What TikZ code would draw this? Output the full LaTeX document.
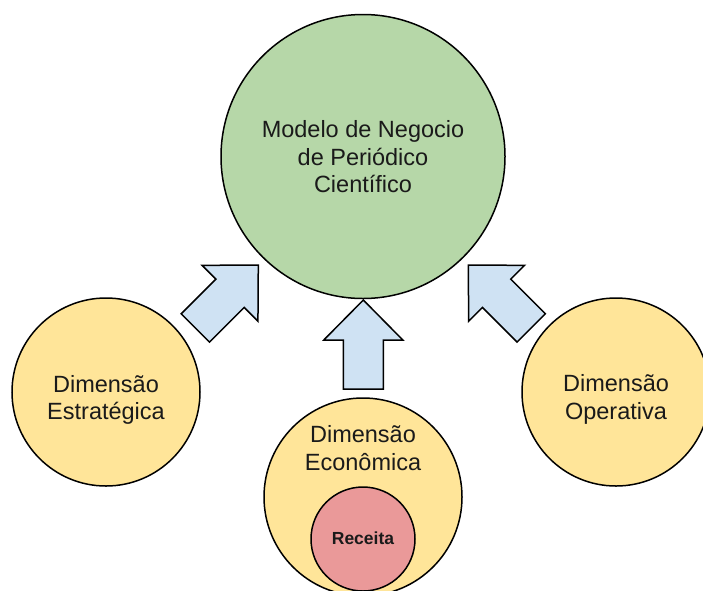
\documentclass[tikz,border=0pt]{standalone}
\usepackage{fontspec}
\setmainfont{Liberation Sans}
\definecolor{gfill}{HTML}{B6D7A8}
\definecolor{yfill}{HTML}{FFE599}
\definecolor{rfill}{HTML}{EA9999}
\definecolor{bfill}{HTML}{CFE2F3}
\definecolor{txt}{HTML}{1A1A1A}
\tikzset{
  circ/.style={circle, draw=black, line width=1.5pt, inner sep=0pt},
  lbl/.style={align=center, text=txt, inner sep=0pt, font=\fontsize{23.5}{27.5}\selectfont},
  blockarrow/.style={draw=black, fill=bfill, line width=1.5pt, line join=miter}
}
\begin{document}
\begin{tikzpicture}[x=1pt, y=-1pt]
\useasboundingbox (0,0) rectangle (703,590);
\clip (0,0) rectangle (703,590);
\fill[white] (0,0) rectangle (703,590);
% circles
\node[circ, fill=gfill, minimum size=284pt] (modelo) at (363,156.5) {};
\node[circ, fill=yfill, minimum size=188pt] (estr) at (106,392) {};
\node[circ, fill=yfill, minimum size=188pt] (oper) at (616,392) {};
\node[circ, fill=yfill, minimum size=198pt] (econ) at (363,497) {};
\node[circ, fill=rfill, minimum size=104pt] (rec) at (363,539) {};
% texts
\node[lbl] (tmodelo) at (363,157) {Modelo de Negocio\\de Periódico\\Científico};
\node[lbl] (testr) at (106,400) {Dimensão\\Estratégica};
\node[lbl] (toper) at (616,399.5) {Dimensão\\Operativa};
\node[lbl] (tecon) at (363,448) {Dimensão\\Econômica};
\node[anchor=base, text=txt, inner sep=0pt, font=\fontsize{17.5}{20}\selectfont\bfseries] (trec) at (363,544) {Receita};
% block arrows
\coordinate (tipc) at (363.3,300);
\coordinate (tipl) at (258.3,265);
\coordinate (tipr) at (468.3,265);
\draw[blockarrow, shift={(tipc)}] (0,0) -- (39.5,40) -- (20,40) -- (20,89) -- (-20,89) -- (-20,40) -- (-39.5,40) -- cycle;
\draw[blockarrow, shift={(tipl)}, rotate=-45] (0,0) -- (39.5,40) -- (20,40) -- (20,89) -- (-20,89) -- (-20,40) -- (-39.5,40) -- cycle;
\draw[blockarrow, shift={(tipr)}, rotate=45] (0,0) -- (39.5,40) -- (20,40) -- (20,89) -- (-20,89) -- (-20,40) -- (-39.5,40) -- cycle;
\end{tikzpicture}
\end{document}
